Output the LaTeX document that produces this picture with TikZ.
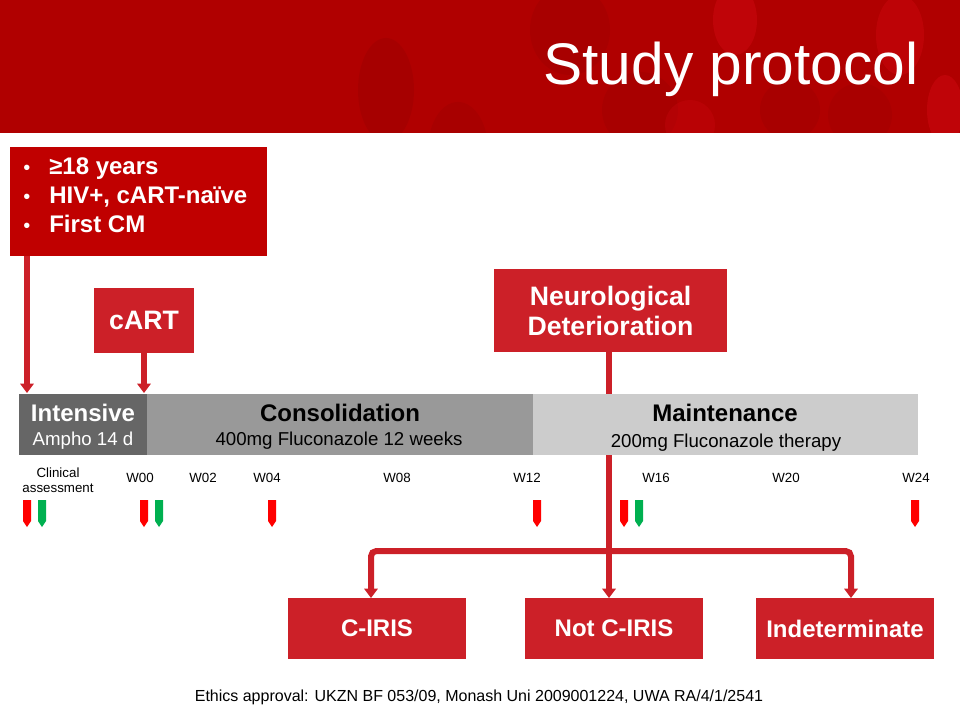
\documentclass[tikz,border=0pt]{standalone}
\usepackage{fontspec}
\setmainfont{Liberation Sans}
\usetikzlibrary{arrows.meta}
\definecolor{hdr}{RGB}{176,0,0}
\definecolor{hdrdark}{RGB}{150,0,0}
\definecolor{hdrlight}{RGB}{215,10,20}
\definecolor{critred}{RGB}{192,0,0}
\definecolor{boxred}{RGB}{204,32,40}
\definecolor{mkred}{RGB}{255,0,0}
\definecolor{mkgreen}{RGB}{0,176,80}
\definecolor{gdark}{RGB}{102,102,102}
\definecolor{gmid}{RGB}{153,153,153}
\definecolor{glight}{RGB}{204,204,204}
\begin{document}
\begin{tikzpicture}[x=0.75pt,y=-0.75pt,
  sz/.style 2 args={minimum width=#1*0.75pt, minimum height=#2*0.75pt, inner sep=0pt, outer sep=0pt},
  redbox/.style={fill=boxred, draw=none, text=white, font=\fontsize{20}{22.5}\selectfont\bfseries, align=center},
  outbox/.style={fill=boxred, draw=none, text=white, font=\fontsize{18}{20}\selectfont\bfseries, sz={178}{61}},
  conn/.style={draw=boxred, line width=4.5pt},
  arr/.style={conn, -{Triangle[width=10pt,length=7pt]}},
  wk/.style={font=\fontsize{10}{12}\selectfont, anchor=base, inner sep=0pt},
  bartitle/.style={font=\fontsize{18}{20}\selectfont\bfseries, anchor=base, inner sep=0pt},
  barsub/.style={font=\fontsize{14}{16}\selectfont, anchor=base, inner sep=0pt},
  crittext/.style={font=\fontsize{18}{20}\selectfont\bfseries, text=white, anchor=base west, inner sep=0pt},
  bullet/.style={font=\fontsize{15}{16}\selectfont, text=white, anchor=base, inner sep=0pt}
]
\useasboundingbox (0,0) rectangle (960,720);
% header
\fill[hdr] (0,0) rectangle (960,133);
\begin{scope}
\clip (0,0) rectangle (960,133);
\fill[hdrdark, opacity=0.35] (386,90) ellipse [x radius=28, y radius=52];
\fill[hdrdark, opacity=0.3] (458,150) ellipse [x radius=30, y radius=48];
\fill[hdrdark, opacity=0.3] (570,30) ellipse [x radius=40, y radius=45];
\fill[hdrdark, opacity=0.3] (640,110) circle [radius=38];
\fill[hdrlight, opacity=0.4] (735,20) ellipse [x radius=22, y radius=35];
\fill[hdrdark, opacity=0.3] (790,110) circle [radius=30];
\fill[hdrlight, opacity=0.35] (900,35) ellipse [x radius=24, y radius=40];
\fill[hdrlight, opacity=0.4] (945,110) ellipse [x radius=18, y radius=35];
\fill[hdrdark, opacity=0.25] (860,115) circle [radius=32];
\fill[hdrlight, opacity=0.25] (690,125) circle [radius=25];
\end{scope}
\node[text=white, font=\fontsize{44}{50}\selectfont, anchor=base, inner sep=0pt] (title) at (731,85) {Study protocol};

% criteria box
\node[fill=critred, sz={257}{109}] (crit) at (138.5,201.5) {};
\node[bullet] (b1) at (27,175) {•};
\node[bullet] (b2) at (27,204) {•};
\node[bullet] (b3) at (27,233) {•};
\node[crittext] (c1) at (49,175) {≥18 years};
\node[crittext] (c2) at (49,204) {HIV+, cART-naïve};
\node[crittext] (c3) at (49,233) {First CM};

% cART box
\node[redbox, sz={100}{65}] (cart) at (144,320.5) {cART};

% neuro box
\node[redbox, sz={233}{83}] (neuro) at (610.5,310.5) {Neurological\\Deterioration};

% junction coordinates
\coordinate (j) at (609,551);
\coordinate (jl) at (371,551);
\coordinate (jr) at (851,551);
\coordinate (a1) at (27,393);

% stem (drawn before bar so bar covers it)
\draw[conn] (neuro.south -| j) -- (j);

% bar
\node[fill=gdark, sz={128}{61}] (intensive) at (83,424.5) {};
\node[fill=gmid, sz={386}{61}] (consol) at (340,424.5) {};
\node[fill=glight, sz={385}{61}] (maint) at (725.5,424.5) {};
\node[bartitle, text=white] (tint) at (83,421.5) {Intensive};
\node[barsub, text=white] (sint) at (83,445) {Ampho 14 d};
\node[bartitle] (tcon) at (340,421.5) {Consolidation};
\node[barsub] (scon) at (339,445) {400mg Fluconazole 12 weeks};
\node[bartitle] (tmai) at (725,421.5) {Maintenance};
\node[barsub] (smai) at (726,447) {200mg Fluconazole therapy};

% arrows into bar
\draw[arr] (crit.south -| a1) -- (a1);
\draw[arr] (cart.south) -- (cart.south |- a1);

% week labels
\node[font=\fontsize{10}{11.5}\selectfont, align=center, inner sep=0pt] (clin) at (58,480) {Clinical\\assessment};
\node[wk] (w00) at (140,482) {W00};
\node[wk] (w02) at (203,482) {W02};
\node[wk] (w04) at (267,482) {W04};
\node[wk] (w08) at (397,482) {W08};
\node[wk] (w12) at (527,482) {W12};
\node[wk] (w16) at (656,482) {W16};
\node[wk] (w20) at (786,482) {W20};
\node[wk] (w24) at (916,482) {W24};

% markers
\foreach \x/\c in {27/mkred,42/mkgreen,144/mkred,159/mkgreen,272/mkred,537/mkred,624/mkred,639/mkgreen,915/mkred}
  \fill[\c] (\x-4,500) -- (\x+4,500) -- (\x+4,521) -- (\x,527) -- (\x-4,521) -- cycle;

% outcome boxes
\node[outbox] (ciris) at (377,628.5) {C-IRIS};
\node[outbox] (notc) at (614,628.5) {Not C-IRIS};
\node[outbox] (indet) at (845,628.5) {Indeterminate};

% branches
\draw[arr, rounded corners=4pt] (j) -- (jl) -- (jl |- ciris.north);
\draw[arr, rounded corners=4pt] (j) -- (jr) -- (jr |- indet.north);
\draw[arr] (j) -- (j |- notc.north);

% ethics
\node[font=\fontsize{12}{14}\selectfont, anchor=base, inner sep=0pt] (eth) at (479,701) {Ethics approval: UKZN BF 053/09, Monash Uni 2009001224, UWA RA/4/1/2541};
\end{tikzpicture}
\end{document}
